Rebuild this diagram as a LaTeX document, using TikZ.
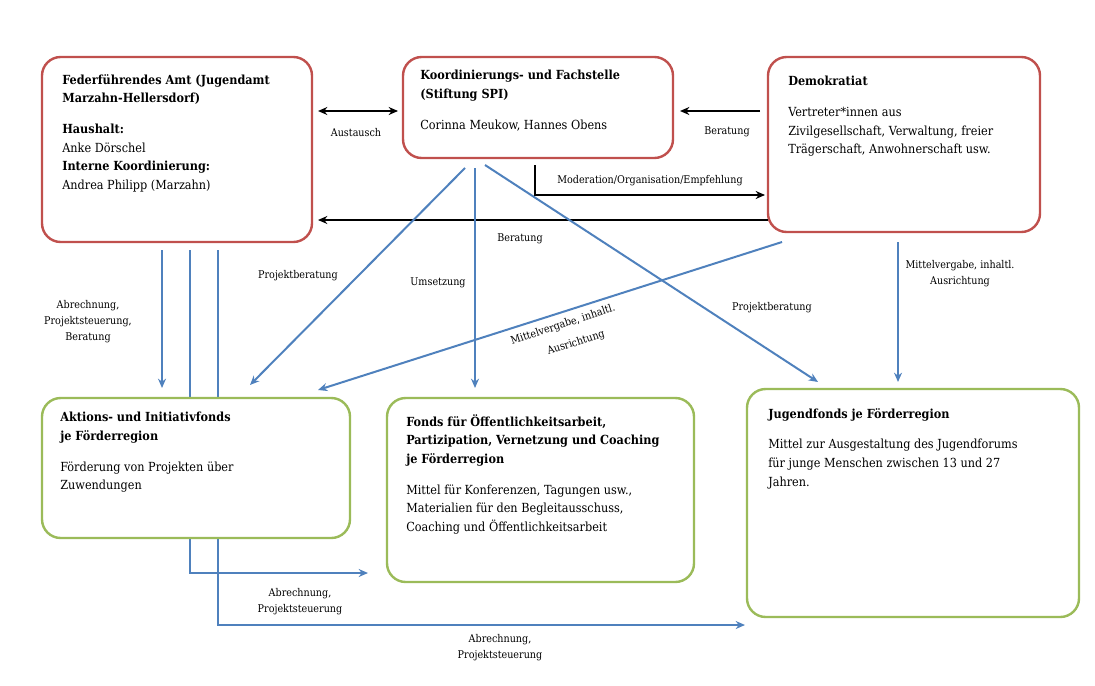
\documentclass[tikz,border=0pt]{standalone}
\usepackage{fontspec}
\setmainfont{DejaVu Serif Condensed}
\usetikzlibrary{arrows.meta}
\definecolor{rd}{RGB}{192,80,77}
\definecolor{gr}{RGB}{155,187,89}
\definecolor{bl}{RGB}{79,129,189}
\begin{document}
\begin{tikzpicture}[x=0.75pt,y=-0.75pt,
 box/.style={draw,line width=1.8pt,rounded corners=14pt,fill=white},
 rbox/.style={box,draw=rd},gbox/.style={box,draw=gr},
 txt/.style={anchor=north west,align=left,font=\fontsize{9.4}{14}\selectfont,inner sep=0},
 lab/.style={align=center,font=\fontsize{8}{12}\selectfont,inner sep=1pt},
 ba/.style={-{Stealth[length=7pt,width=6pt]},line width=1.5pt},
 bla/.style={-{Stealth[length=7pt,width=6pt]},line width=1.5pt,bl}]
\useasboundingbox (0,0) rectangle (1095,685);
\coordinate (e1) at (162,250); \coordinate (e2) at (162,388);
\draw[bla] (e1) -- (e2);
\coordinate (f1) at (190,250); \coordinate (f2) at (368,573);
\draw[bla] (f1) |- (f2);
\coordinate (g1) at (218,250); \coordinate (g2) at (745,625);
\draw[bla] (g1) |- (g2);
\draw[rbox] (42,57) rectangle (312,242);
\node[txt] (t1) at (62,74) {\textbf{Federführendes Amt (Jugendamt}\\\textbf{Marzahn-Hellersdorf)}\\[9pt]\textbf{Haushalt:}\\Anke Dörschel\\\textbf{Interne Koordinierung:}\\Andrea Philipp (Marzahn)};
\draw[rbox] (403,57) rectangle (673,158);
\node[txt] (t2) at (420,70) {\textbf{Koordinierungs- und Fachstelle}\\\textbf{(Stiftung SPI)}\\[9pt]Corinna Meukow, Hannes Obens};
\draw[rbox] (768,57) rectangle (1040,232);
\node[txt] (t3) at (788,76) {\textbf{Demokratiat}\\[9pt]Vertreter*innen aus\\Zivilgesellschaft, Verwaltung, freier\\Trägerschaft, Anwohnerschaft usw.};
\draw[gbox] (42,398) rectangle (350,538);
\node[txt] (t4) at (60,412) {\textbf{Aktions- und Initiativfonds}\\\textbf{je Förderregion}\\[9pt]Förderung von Projekten über\\Zuwendungen};
\draw[gbox] (387,398) rectangle (694,582);
\node[txt] (t5) at (406,414) {\textbf{Fonds für Öffentlichkeitsarbeit,}\\\textbf{Partizipation, Vernetzung und Coaching}\\\textbf{je Förderregion}\\[9pt]Mittel für Konferenzen, Tagungen usw.,\\Materialien für den Begleitausschuss,\\Coaching und Öffentlichkeitsarbeit};
\draw[gbox] (747,389) rectangle (1079,617);
\node[txt] (t6) at (768,408) {\textbf{Jugendfonds je Förderregion}\\[9pt]Mittel zur Ausgestaltung des Jugendforums\\für junge Menschen zwischen 13 und 27\\Jahren.};
\coordinate (a1) at (318,111); \coordinate (a2) at (398,111);
\draw[ba,{Stealth[length=7pt,width=6pt]}-{Stealth[length=7pt,width=6pt]}] (a1) -- (a2);
\node[lab] (l1) at (356,133) {Austausch};
\coordinate (b1) at (760,111); \coordinate (b2) at (680,111);
\draw[ba] (b1) -- (b2);
\node[lab] (l2) at (727,132) {Beratung};
\coordinate (c1) at (535,165); \coordinate (c2) at (765,195);
\draw[ba] (c1) |- (c2);
\node[lab] (l3) at (650,181) {Moderation/Organisation/Empfehlung};
\coordinate (d1) at (768,220); \coordinate (d2) at (318,220);
\draw[ba] (d1) -- (d2);
\node[lab] (l4) at (520,239) {Beratung};
\node[lab] (l5) at (88,322) {Abrechnung,\\Projektsteuerung,\\Beratung};
\node[lab] (l6) at (300,602) {Abrechnung,\\Projektsteuerung};
\node[lab] (l7) at (500,648) {Abrechnung,\\Projektsteuerung};
\coordinate (h1) at (465,168); \coordinate (h2) at (250,385);
\draw[bla] (h1) -- (h2);
\node[lab] (l8) at (298,276) {Projektberatung};
\coordinate (i1) at (475,168); \coordinate (i2) at (475,388);
\draw[bla] (i1) -- (i2);
\node[lab] (l9) at (438,283) {Umsetzung};
\coordinate (j1) at (485,165); \coordinate (j2) at (818,382);
\draw[bla] (j1) -- (j2);
\node[lab] (l10) at (772,308) {Projektberatung};
\coordinate (k1) at (782,242); \coordinate (k2) at (318,390);
\draw[bla] (k1) -- (k2);
\node[lab,rotate=18] (l11) at (563,325) {Mittelvergabe, inhaltl.};
\node[lab,rotate=18] (l11b) at (576,343) {Ausrichtung};
\coordinate (m1) at (898,242); \coordinate (m2) at (898,382);
\draw[bla] (m1) -- (m2);
\node[lab] (l12) at (960,274) {Mittelvergabe, inhaltl.\\Ausrichtung};
\end{tikzpicture}
\end{document}
